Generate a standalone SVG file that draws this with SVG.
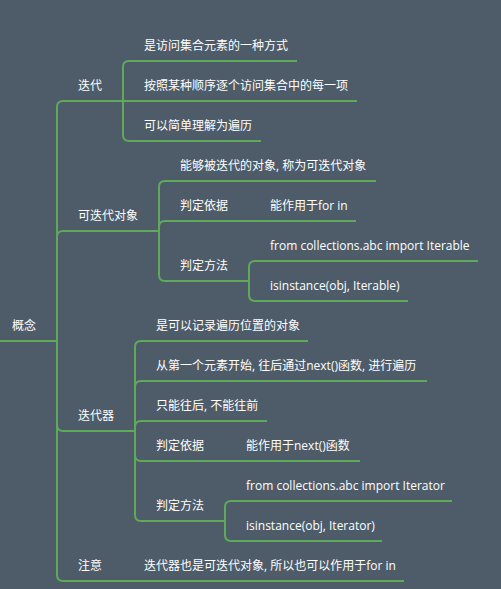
<svg xmlns="http://www.w3.org/2000/svg" width="501" height="589" viewBox="0 0 501 589">
<style>
.t{font-family:"Open Sans","Noto Sans CJK SC",sans-serif;font-size:12px;fill:#ffffff}
.u,.c{fill:none;stroke:#5ea95a;stroke-width:2;stroke-linecap:butt}
</style>
<rect width="501" height="589" fill="#4e5c69"/>
<g id="connectors">
<path class="c" d="M57,341 L57,107 Q57,101 63,101"/>
<path class="c" d="M57,341 L57,237 Q57,231 63,231"/>
<path class="c" d="M57,341 L57,425 Q57,431 63,431"/>
<path class="c" d="M57,341 L57,575 Q57,581 63,581"/>
<path class="c" d="M123,101 L123,67 Q123,61 129,61"/>
<path class="c" d="M123,101 L129,101"/>
<path class="c" d="M123,101 L123,135 Q123,141 129,141"/>
<path class="c" d="M159,231 L159,187 Q159,181 165,181"/>
<path class="c" d="M159,231 L159,227 Q159,221 165,221"/>
<path class="c" d="M159,231 L159,275 Q159,281 165,281"/>
<path class="c" d="M249,221 L255,221"/>
<path class="c" d="M249,281 L249,267 Q249,261 255,261"/>
<path class="c" d="M249,281 L249,295 Q249,301 255,301"/>
<path class="c" d="M135,431 L135,347 Q135,341 141,341"/>
<path class="c" d="M135,431 L135,387 Q135,381 141,381"/>
<path class="c" d="M135,431 L135,427 Q135,421 141,421"/>
<path class="c" d="M135,431 L135,455 Q135,461 141,461"/>
<path class="c" d="M135,431 L135,515 Q135,521 141,521"/>
<path class="c" d="M225,461 L231,461"/>
<path class="c" d="M225,521 L225,507 Q225,501 231,501"/>
<path class="c" d="M225,521 L225,535 Q225,541 231,541"/>
<path class="c" d="M123,581 L129,581"/>
</g>
<g id="root"><line class="u" x1="0" y1="341" x2="57" y2="341"/><text class="t" x="12" y="330">概念</text></g>
<g id="n-diedai"><line class="u" x1="63" y1="101" x2="123" y2="101"/><text class="t" x="78" y="90">迭代</text></g>
<g id="n-diedai-1"><line class="u" x1="129" y1="61" x2="297" y2="61"/><text class="t" x="144" y="50">是访问集合元素的一种方式</text></g>
<g id="n-diedai-2"><line class="u" x1="129" y1="101" x2="357" y2="101"/><text class="t" x="144" y="90">按照某种顺序逐个访问集合中的每一项</text></g>
<g id="n-diedai-3"><line class="u" x1="129" y1="141" x2="261" y2="141"/><text class="t" x="144" y="130">可以简单理解为遍历</text></g>
<g id="n-iterable"><line class="u" x1="63" y1="231" x2="159" y2="231"/><text class="t" x="78" y="220">可迭代对象</text></g>
<g id="n-iterable-1"><line class="u" x1="165" y1="181" x2="376" y2="181"/><text class="t" x="180" y="170">能够被迭代的对象, 称为可迭代对象</text></g>
<g id="n-iterable-2"><line class="u" x1="165" y1="221" x2="249" y2="221"/><text class="t" x="180" y="210">判定依据</text></g>
<g id="n-iterable-2-1"><line class="u" x1="255" y1="221" x2="356" y2="221"/><text class="t" x="270" y="210">能作用于for in</text></g>
<g id="n-iterable-3"><line class="u" x1="165" y1="281" x2="249" y2="281"/><text class="t" x="180" y="270">判定方法</text></g>
<g id="n-iterable-3-1"><line class="u" x1="255" y1="261" x2="478" y2="261"/><text class="t" x="270" y="250">from collections.abc import Iterable</text></g>
<g id="n-iterable-3-2"><line class="u" x1="255" y1="301" x2="408" y2="301"/><text class="t" x="270" y="290">isinstance(obj, Iterable)</text></g>
<g id="n-iterator"><line class="u" x1="63" y1="431" x2="135" y2="431"/><text class="t" x="78" y="420">迭代器</text></g>
<g id="n-iterator-1"><line class="u" x1="141" y1="341" x2="308" y2="341"/><text class="t" x="156" y="330">是可以记录遍历位置的对象</text></g>
<g id="n-iterator-2"><line class="u" x1="141" y1="381" x2="427" y2="381"/><text class="t" x="156" y="370">从第一个元素开始, 往后通过next()函数, 进行遍历</text></g>
<g id="n-iterator-3"><line class="u" x1="141" y1="421" x2="267" y2="421"/><text class="t" x="156" y="410">只能往后, 不能往前</text></g>
<g id="n-iterator-4"><line class="u" x1="141" y1="461" x2="225" y2="461"/><text class="t" x="156" y="450">判定依据</text></g>
<g id="n-iterator-4-1"><line class="u" x1="231" y1="461" x2="360" y2="461"/><text class="t" x="246" y="450">能作用于next()函数</text></g>
<g id="n-iterator-5"><line class="u" x1="141" y1="521" x2="225" y2="521"/><text class="t" x="156" y="510">判定方法</text></g>
<g id="n-iterator-5-1"><line class="u" x1="231" y1="501" x2="452" y2="501"/><text class="t" x="246" y="490">from collections.abc import Iterator</text></g>
<g id="n-iterator-5-2"><line class="u" x1="231" y1="541" x2="382" y2="541"/><text class="t" x="246" y="530">isinstance(obj, Iterator)</text></g>
<g id="n-note"><line class="u" x1="63" y1="581" x2="123" y2="581"/><text class="t" x="78" y="570">注意</text></g>
<g id="n-note-1"><line class="u" x1="129" y1="581" x2="404" y2="581"/><text class="t" x="144" y="570">迭代器也是可迭代对象, 所以也可以作用于for in</text></g>
</svg>
